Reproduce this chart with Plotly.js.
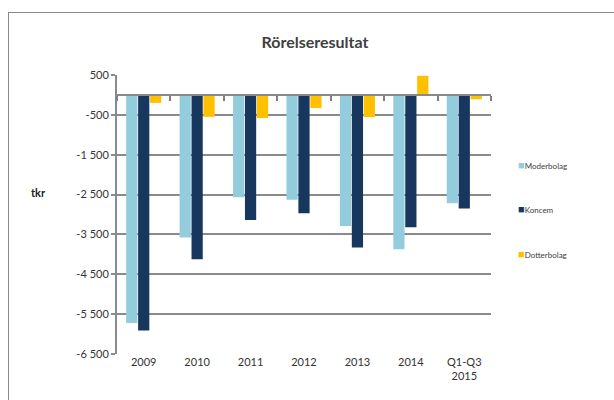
<!DOCTYPE html>
<html>
<head>
<meta charset="utf-8">
<script src="https://cdn.plot.ly/plotly-3.0.1.min.js"></script>
<style>
  html, body { margin:0; padding:0; background:#fff; }
  #wrap { position:relative; width:614px; height:400px; overflow:hidden; }
  #chart { position:absolute; left:0; top:0; width:614px; height:400px; }
  #frame { position:absolute; left:8px; top:12px; width:700px; height:500px; border:1.5px solid #8a8a8a; pointer-events:none; }
</style>
</head>
<body>
<div id="wrap"><div id="chart"></div><div id="frame"></div></div>
<script>
const categories = ['2009', '2010', '2011', '2012', '2013', '2014', 'Q1-Q3<br>2015'];
const seriesNames = ['Moderbolag', 'Koncem', 'Dotterbolag'];
const moderbolag = [-5720, -3580, -2570, -2630, -3290, -3870, -2720];
const koncem = [-5910, -4120, -3140, -2970, -3830, -3320, -2850];
const dotterbolag = [-200, -550, -580, -330, -555, 480, -110];
const tickValues = [500, -500, -1500, -2500, -3500, -4500, -5500, -6500];
const tickLabels = ['500', '-500', '-1 500', '-2 500', '-3 500', '-4 500', '-5 500', '-6 500'];

const colors = ['#93CDDD', '#17375E', '#FFC000'];
const seriesValues = [moderbolag, koncem, dotterbolag];
const gridC = '#8a8a8a';
const FONT = 'Lato, "Open Sans", sans-serif';

const traces = seriesValues.map((vals, i) => ({
  type: 'bar', x: categories, y: vals, name: seriesNames[i],
  marker: { color: colors[i], line: { width: 0 } },
  showlegend: false, hoverinfo: 'x+y'
}));
// invisible helper trace so the zero-level category axis (ticks between categories) is drawn
traces.push({ type: 'scatter', x: categories, y: dotterbolag, xaxis: 'x2',
  mode: 'markers', marker: { opacity: 0, size: 1 }, showlegend: false, hoverinfo: 'skip' });

const legendAnn = seriesNames.map((n, i) => ({
  xref: 'paper', yref: 'paper', x: 1.066, y: 0.681 - i * 0.16,
  xanchor: 'left', yanchor: 'middle', showarrow: false,
  text: '<span style="color:' + colors[i] + ';font-size:11px">■</span>' + n,
  font: { family: FONT, size: 8, color: '#404040' }
}));

const layout = {
  width: 614, height: 400,
  margin: { l: 117, r: 123, t: 75, b: 46 },
  paper_bgcolor: 'rgba(0,0,0,0)', plot_bgcolor: 'rgba(0,0,0,0)',
  barmode: 'group', bargap: 0.33, bargroupgap: 0.06,
  title: { text: '<b>Rörelseresultat</b>', x: 0.513, xref: 'container', y: 0.895, yref: 'container',
    xanchor: 'center', yanchor: 'middle', font: { family: FONT, size: 16, color: '#404040' } },
  font: { family: FONT, size: 11, color: '#333' },
  xaxis: { type: 'category', range: [-0.5, 6.5], showgrid: false, zeroline: false, showline: false,
    ticks: '', tickfont: { family: FONT, size: 11, color: '#333' } },
  xaxis2: { type: 'category', range: [-0.5, 6.5], overlaying: 'x', anchor: 'free', position: 6500 / 7000,
    side: 'bottom', showgrid: false, zeroline: false, showline: true, linecolor: gridC, linewidth: 2,
    showticklabels: false,
    ticks: 'outside', tickson: 'boundaries', ticklen: 5, tickwidth: 2, tickcolor: '#808080' },
  yaxis: { range: [-6500, 500], tickvals: tickValues, ticktext: tickLabels,
    showgrid: true, gridcolor: gridC, gridwidth: 2,
    zeroline: true, zerolinecolor: gridC, zerolinewidth: 2,
    showline: true, linecolor: gridC, linewidth: 2,
    ticks: 'outside', ticklen: 4, tickwidth: 2, tickcolor: gridC,
    tickfont: { family: FONT, size: 11, color: '#333' } },
  annotations: [{ xref: 'paper', yref: 'paper', x: -0.211, y: 0.578, xanchor: 'center', yanchor: 'middle',
    showarrow: false, text: '<b>tkr</b>', font: { family: FONT, size: 11, color: '#222' } }].concat(legendAnn)
};

Plotly.newPlot('chart', traces, layout, { displayModeBar: false, staticPlot: true });
</script>
</body>
</html>
